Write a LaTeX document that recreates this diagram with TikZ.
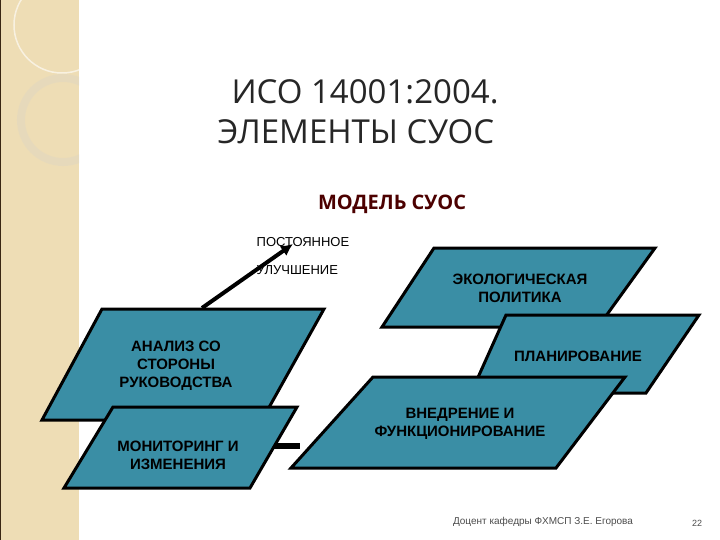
\documentclass[tikz,border=0pt]{standalone}
\usepackage{fontspec}
\usetikzlibrary{arrows.meta}
\setmainfont{Liberation Sans}
\newfontfamily\titlefont{Open Sans}
\begin{document}
\begin{tikzpicture}[x=1pt,y=-1pt,
  para/.style={fill=paracol, draw=black, line width=3pt, line join=miter},
  lbl/.style={font=\bfseries\fontsize{15}{18}\selectfont, align=center, text=black}]
\definecolor{paracol}{HTML}{3A8EA5}
\definecolor{strip}{HTML}{EEDDB5}
\useasboundingbox (0,0) rectangle (720,540);
\fill[white] (0,0) rectangle (720,540);
\fill[strip] (0,0) rectangle (79,540);
\draw[black!70!brown, line width=1pt] (0.5,0) -- (0.5,540);
\begin{scope}
\clip (0,0) rectangle (79,540);
\draw[white!60!strip, line width=1.5pt] (62,25) circle[radius=48];
\draw[strip!85!black!60!white, line width=8pt, opacity=0.5] (63,120) circle[radius=42];
\end{scope}
\node[font=\titlefont\fontsize{33}{40}\selectfont, align=left, text=black!85, anchor=west] (title) at (214,112) {\hspace*{14pt}ИСО 14001:2004.\\ЭЛЕМЕНТЫ СУОС};
\node[font=\titlefont\bfseries\fontsize{20}{24}\selectfont, text=black!70!red] (model) at (392,204) {МОДЕЛЬ СУОС};
% connector
\coordinate (c1) at (250,446);
\coordinate (c2) at (300,446);
\draw[line width=6pt] (c1) -- (c2);
% left
\draw[para] (102,309) -- (324,309) -- (262,420) -- (42,420) -- cycle;
\node[lbl] (an) at (176,366) {АНАЛИЗ СО\\СТОРОНЫ\\РУКОВОДСТВА};
\draw[para] (113,407) -- (297,407) -- (250,488) -- (64,488) -- cycle;
\node[lbl] (mon) at (178,455) {МОНИТОРИНГ И\\ИЗМЕНЕНИЯ};
% right
\draw[para] (434,248) -- (655,248) -- (598,327) -- (382,327) -- cycle;
\node[lbl] (eco) at (520,288) {ЭКОЛОГИЧЕСКАЯ\\ПОЛИТИКА};
\draw[para] (506,315) -- (699,315) -- (646,393) -- (471,393) -- cycle;
\node[lbl] (plan) at (578,356) {ПЛАНИРОВАНИЕ};
\draw[para] (373,377) -- (625,377) -- (556,468) -- (291,468) -- cycle;
\node[lbl] (imp) at (460,424) {ВНЕДРЕНИЕ И\\ФУНКЦИОНИРОВАНИЕ};
\node[font=\fontsize{13}{28}\selectfont, align=left] (imp2) at (303,256) {ПОСТОЯННОЕ\\УЛУЧШЕНИЕ};
\coordinate (a1) at (202,308);
\coordinate (a2) at (293,244);
\draw[line width=4pt, -{Latex[length=12pt,width=12pt]}] (a1) -- (a2);
\node[font=\fontsize{10}{12}\selectfont, text=black!70] (foot) at (543,522) {Доцент кафедры ФХМСП З.Е. Егорова};
\node[font=\fontsize{9}{10}\selectfont, text=black!70] (pg) at (697,523) {22};
\end{tikzpicture}
\end{document}
